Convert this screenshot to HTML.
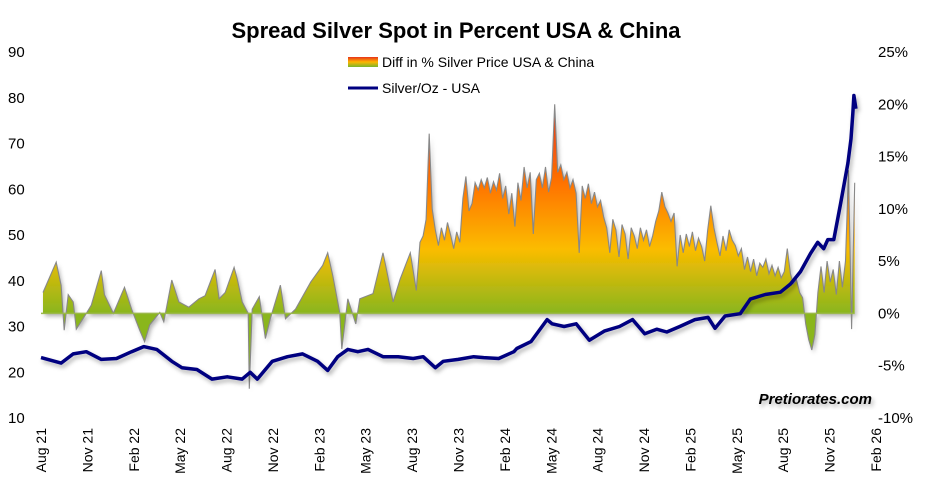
<!DOCTYPE html>
<html><head><meta charset="utf-8">
<style>
html,body{margin:0;padding:0;background:#fff;}
svg{display:block;font-family:"Liberation Sans",sans-serif;}
</style></head>
<body>
<svg id="chart" width="945" height="494" viewBox="0 0 945 494">
<defs>
<linearGradient id="spreadGrad" gradientUnits="userSpaceOnUse" x1="0" y1="313" x2="0" y2="100">
<stop offset="0" stop-color="#8ab61e"/>
<stop offset="0.3" stop-color="#fbbc00"/>
<stop offset="0.6" stop-color="#ff7400"/>
<stop offset="0.85" stop-color="#f04a10"/>
<stop offset="1" stop-color="#e03010"/>
</linearGradient>
<linearGradient id="legGrad" x1="0" y1="0" x2="0" y2="1">
<stop offset="0" stop-color="#e8321a"/><stop offset="0.5" stop-color="#fdb700"/><stop offset="1" stop-color="#7ab52a"/>
</linearGradient>
<filter id="sh" x="-5%" y="-5%" width="110%" height="115%"><feDropShadow dx="2" dy="3" stdDeviation="2" flood-color="#000" flood-opacity="0.3"/></filter>
</defs>
<text x="456" y="38" text-anchor="middle" font-size="22" font-weight="bold" fill="#000">Spread Silver Spot in Percent USA &amp; China</text>
<g>
<rect x="348" y="57" width="30" height="10" fill="url(#legGrad)"/>
<text x="382" y="67" font-size="14" fill="#000">Diff in % Silver Price USA &amp; China</text>
<line x1="348" y1="88" x2="378" y2="88" stroke="#000080" stroke-width="3"/>
<text x="382" y="93" font-size="14" fill="#000">Silver/Oz - USA</text>
</g>
<g id="plot"></g>
<g id="axes"></g>
<text x="872" y="404" text-anchor="end" font-size="15" font-weight="bold" font-style="italic" fill="#000" filter="url(#sh)">Pretiorates.com</text>
</svg>
<script>
// months since Aug 2021
const silverMonths=[0,1.30,2.08,2.93,3.90,4.88,5.86,6.64,7.48,8.46,9.11,10.08,11.06,12.04,13.01,13.53,13.99,14.96,15.94,16.92,17.89,18.54,19.19,19.84,20.49,21.15,22.12,23.10,24.07,24.72,25.50,26.02,26.99,27.98,28.63,29.60,30.58,30.77,31.69,32.73,33.05,33.83,34.61,35.46,36.43,37.41,38.26,39.04,39.82,40.47,41.31,42.29,43.14,43.59,44.24,45.22,45.87,46.84,47.82,48.47,49.12,49.77,50.23,50.62,50.88,51.27,51.72,52.18,52.38,52.50,52.57,52.70];
const silverValues=[23.2,22,24,24.5,22.8,23,24.5,25.6,25,22.4,21,20.6,18.5,19,18.5,20,18.5,22.4,23.4,24,22.4,20.4,23.4,25,24.5,25,23.4,23.4,23,23.4,21,22.4,22.8,23.4,23.2,23,24.5,25.2,26.7,31.5,30.6,30,30.6,27,29,30,31.5,28.4,29.4,28.8,30,31.5,32,29.6,32.3,32.8,36,37,37.5,39.3,42,46,48.4,47,49,49,57,65.7,71,76.5,80.5,77.6];
// early period (sparse readings)
const spreadEarlyMonths=[0.13,0.98,1.30,1.50,1.76,2.08,2.28,2.93,3.25,3.90,4.10,4.68,5.40,5.86,6.38,6.70,7.03,7.68,7.94,8.46,8.91,9.56,10.21,10.61,11.26,11.52,11.91,12.49,12.69,13.01,13.40,13.47,13.66,14.12,14.51,14.83,15.48,15.81,16.46,17.44,18.22,18.54,18.87,19.32,19.45,19.84,20.36,20.62,21.47,22.12,22.77,23.23,23.88,24.27];
const spreadEarlyValues=[2.0,4.9,2.7,-1.6,1.8,1.1,-1.5,0,0.8,4.1,1.8,0,2.5,0.4,-1.6,-2.7,-1.1,0.1,-0.8,3.2,1.1,0.6,1.4,1.7,4.2,1.4,2,4.4,3.3,1.1,0,-7.2,0.4,1.6,-2.4,-0.5,2.7,-0.5,0.4,3,4.6,5.8,3.6,0.1,-3.4,1.4,-1,1.4,1.9,5.8,1.1,3.3,5.8,2.2];
// later period: evenly spaced readings between these two dates
const spreadLateStart=24.51;
const spreadLateEnd=52.62;
const spreadLateValues=[6.8,7.4,9,17.2,10,8,6.5,8.2,7,8.7,7.5,6.2,7.8,6.8,11,13.1,9.8,10.5,12.5,11.8,12.8,12,13,11.5,12.6,11.8,13.4,11,12.2,9.5,11.5,8.3,12.5,10.8,14,12,13.5,7.6,12.8,13.4,12,14,11.6,13,20,13.5,14.2,12.8,13.5,12,12.8,11.5,5.8,12.2,11,12.4,10.5,11.6,10.2,10.8,9.2,8.2,5.8,9,8,5.4,8.5,7.6,5.2,8.2,7.4,6.2,8.2,7,8,6.4,7.4,8.8,9.8,11.6,10.2,9.6,8.8,9.6,4.5,7.5,5.8,7.6,6.4,7.8,6,7.2,6.4,5,8,10.3,8.2,6.8,5.5,7.4,6,8,7,6.5,5.5,6.2,4.2,5.4,4,5.2,3.6,4.8,4.4,5.2,3.8,4.6,3.6,4.4,3.4,4,6.2,3.8,2.8,3.2,2,1.5,-1,-2.5,-3.5,-2,2,4.5,2,5,3,4.2,1.8,5,2.5,5,13.7,-1.5,12.5];
const leftTicks=[90,80,70,60,50,40,30,20,10];
const rightTicks=["25%","20%","15%","10%","5%","0%","-5%","-10%"];
const rightTickValues=[25,20,15,10,5,0,-5,-10];
const xTickLabels=["Aug 21","Nov 21","Feb 22","May 22","Aug 22","Nov 22","Feb 23","May 23","Aug 23","Nov 23","Feb 24","May 24","Aug 24","Nov 24","Feb 25","May 25","Aug 25","Nov 25","Feb 26"];

const NS="http://www.w3.org/2000/svg";
const xS=m=>41+m*(835/54);
const yL=v=>52+(90-v)*(366/80);
const yR=p=>52+(25-p)*(366/35);
function mk(tag,attrs,parent){const e=document.createElementNS(NS,tag);for(const k in attrs)e.setAttribute(k,attrs[k]);parent.appendChild(e);return e;}
const plot=document.getElementById('plot'), axes=document.getElementById('axes');

const spreadPts=[];
spreadEarlyMonths.forEach((m,i)=>spreadPts.push([m,spreadEarlyValues[i]]));
const lateStep=(spreadLateEnd-spreadLateStart)/(spreadLateValues.length-1);
spreadLateValues.forEach((v,i)=>spreadPts.push([spreadLateStart+i*lateStep,v]));

// spread area
const lastM=spreadPts[spreadPts.length-1][0];
let d="M"+xS(spreadPts[0][0])+","+yR(0);
let ld="";
spreadPts.forEach((p,i)=>{const s=xS(p[0]).toFixed(1)+","+yR(p[1]).toFixed(1);d+=" L"+s;ld+=(i?" L":"M")+s;});
d+=" L"+xS(lastM)+","+yR(0)+" Z";
const area=mk('path',{d:d,fill:'url(#spreadGrad)',filter:'url(#sh)'},plot);


const sline=mk('path',{d:ld,fill:'none',stroke:'#888','stroke-width':1.1},plot);


const base=mk('line',{x1:xS(0),x2:xS(lastM),y1:yR(0),y2:yR(0),stroke:'#9bb84a','stroke-width':1.5},plot);



// silver line
let sd="";
silverMonths.forEach((m,i)=>{sd+=(i?" L":"M")+xS(m).toFixed(1)+","+yL(silverValues[i]).toFixed(1);});
const sil=mk('path',{d:sd,fill:'none',stroke:'#000080','stroke-width':3.5,'stroke-linejoin':'round',filter:'url(#sh)'},plot);



// axes labels
leftTicks.forEach(v=>{
  const t=mk('text',{x:8,y:yL(v)+5,'font-size':15,fill:'#000'},axes);
  t.textContent=v;
  
  
});
rightTicks.forEach((s,i)=>{
  const t=mk('text',{x:878,y:yR(rightTickValues[i])+5,'font-size':15,fill:'#000'},axes);
  t.textContent=s;
  
  
});
xTickLabels.forEach((s,i)=>{
  const x=xS(i*3)+5;
  const t=mk('text',{x:0,y:0,'font-size':14,fill:'#000','text-anchor':'end',transform:'translate('+x+',428) rotate(-90)'},axes);
  t.textContent=s;
  
  
});
</script>
</body></html>
